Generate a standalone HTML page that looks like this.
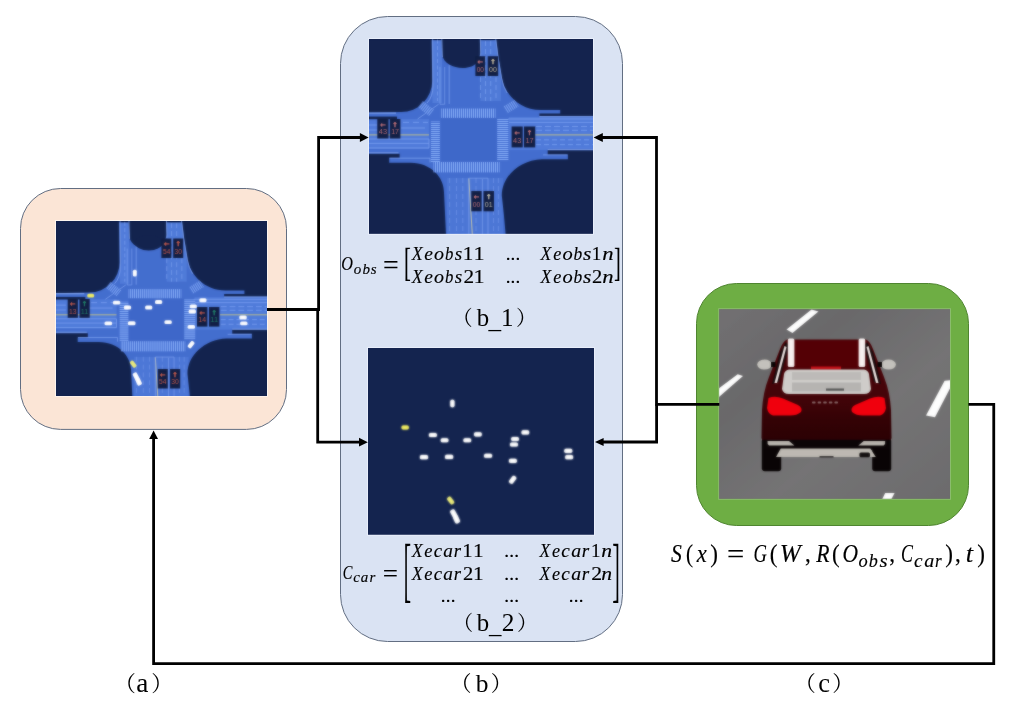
<!DOCTYPE html>
<html><head><meta charset="utf-8"><title>Figure</title>
<style>
html,body{margin:0;padding:0;background:#fff;}
body{width:1009px;height:705px;overflow:hidden;font-family:"Liberation Serif","Noto Serif CJK SC",serif;}
svg{display:block;position:absolute;left:0;top:0;}
</style></head><body>
<svg width="1009" height="705" viewBox="0 0 1009 705">
<defs>
<pattern id="cwv" width="2" height="4" patternUnits="userSpaceOnUse"><rect width="2" height="4" fill="#4a74d4"/><rect width="1" height="4" fill="#82a8f4"/></pattern>
<pattern id="cwh" width="4" height="2" patternUnits="userSpaceOnUse"><rect width="4" height="2" fill="#4a74d4"/><rect width="4" height="1" fill="#82a8f4"/></pattern>
<linearGradient id="roadg" x1="0" y1="0" x2="1" y2="1"><stop offset="0" stop-color="#737173"/><stop offset="0.3" stop-color="#6a696b"/><stop offset="0.6" stop-color="#757475"/><stop offset="1" stop-color="#6c6b6d"/></linearGradient>
<linearGradient id="bodyg" x1="0" y1="0" x2="0" y2="1"><stop offset="0" stop-color="#4c060a"/><stop offset="0.55" stop-color="#45050a"/><stop offset="0.8" stop-color="#340306"/><stop offset="1" stop-color="#2c0205"/></linearGradient>
<filter id="soft" x="-2%" y="-2%" width="104%" height="104%" color-interpolation-filters="sRGB"><feGaussianBlur stdDeviation="0.85"/></filter>
<filter id="soft2" x="-2%" y="-2%" width="104%" height="104%" color-interpolation-filters="sRGB"><feGaussianBlur stdDeviation="0.85"/></filter>
<clipPath id="clipA"><rect x="56" y="221" width="211" height="174.8"/></clipPath>
<clipPath id="clipB1"><rect x="369" y="39" width="224" height="194.8"/></clipPath>
<clipPath id="clipB2"><rect x="368" y="348" width="226" height="186.8"/></clipPath>
<clipPath id="clipC"><rect x="719.2" y="309.2" width="230.8" height="189.6"/></clipPath>
<g id="map"><rect x="-6" y="-6" width="240" height="212" fill="#446ecf"/>
<rect x="-6" y="80" width="66" height="30" fill="#5680de" opacity="0.7"/>
<rect x="140" y="78" width="94" height="33" fill="#5680de" opacity="0.7"/>
<path d="M62.5,-6 H72.2 L73.2,30 V64 H63.5 Z" fill="#5680dc" opacity="0.8"/>
<path d="M110.6,-6 H126.4 L132,40 V62 H111.4 Z" fill="#5680dc" opacity="0.7"/>
<rect x="78" y="139" width="56" height="70" fill="#5680de" opacity="0.5"/>
<path fill="#14244f" d="M-6,-6 H62.5 L63.2,42 A31,31 0 0 1 32.2,73 L-6,73.7 Z"/>
<path fill="#14244f" d="M72.2,-6 L73.2,16 C74.5,24 84,29 93.7,29 C100,29 106,27 109,22 L111.4,14 L110.6,-6 Z"/>
<path fill="#14244f" d="M126.4,-6 L129.4,18 L132.8,38.9 C136,55 150,70.9 172,70.9 H191.2 V74.5 H170.4 V77.1 H234 V-6 Z"/>
<path fill="#14244f" d="M234,111.2 H178.7 V115.4 H198.9 V120.2 H173 C150,121 132.8,138 132.8,156.4 L134.9,175.8 L137.6,206 H234 Z"/>
<path fill="#14244f" d="M-6,114.7 H30.6 V118.8 H20.2 V123.7 H41.7 C62,124 75,138 75,153.6 L77.5,206 H-6 Z"/>
<rect x="-6" y="77.6" width="34" height="2.6" fill="#14244f"/>
<rect x="-6" y="-6" width="240" height="7.1" fill="#14244f"/>
<path d="M48.6,80 L69.5,65.3" stroke="#86a9f4" stroke-width="0.8" fill="none" opacity="0.85"/>
<rect x="-7" y="-4" width="14" height="8" fill="url(#cwv)" opacity="0.8" transform="translate(57,69.5) rotate(38)"/>
<rect x="-6.5" y="-4" width="13" height="8" fill="url(#cwv)" opacity="0.8" transform="translate(142,67.5) rotate(-32)"/>
<path d="M63.6,-6 L64,46 Q64,58 58,64" stroke="#86a9f4" stroke-width="0.9" fill="none" opacity="0.85"/>
<path d="M68.5,-6 V62" stroke="#86a9f4" stroke-width="0.7" fill="none" opacity="0.85" stroke-dasharray="4 2.5"/>
<path d="M72.6,-6 L73.4,18" stroke="#86a9f4" stroke-width="0.9" fill="none" opacity="0.85"/>
<path d="M71,28 V65.3 H75.7 V28" stroke="#86a9f4" stroke-width="0.7" fill="none" opacity="0.85"/>
<path d="M80.2,26 V65" stroke="#86a9f4" stroke-width="0.8" fill="none" opacity="0.85"/>
<path d="M111.2,-6 L111.8,17" stroke="#86a9f4" stroke-width="0.9" fill="none" opacity="0.85"/>
<path d="M126,-6 L129,18 L132.6,39 Q134,48 138,54" stroke="#86a9f4" stroke-width="0.9" fill="none" opacity="0.85"/>
<path d="M116.5,-6 V62" stroke="#86a9f4" stroke-width="0.7" fill="none" opacity="0.85" stroke-dasharray="5 3"/>
<path d="M121.7,-6 V62" stroke="#86a9f4" stroke-width="0.7" fill="none" opacity="0.85" stroke-dasharray="5 3"/>
<path d="M127,38 V60" stroke="#86a9f4" stroke-width="0.7" fill="none" opacity="0.85" stroke-dasharray="5 3"/>
<path d="M111.5,38 V62" stroke="#86a9f4" stroke-width="0.7" fill="none" opacity="0.85" stroke-dasharray="5 3"/>
<path d="M-6,74.2 H27" stroke="#86a9f4" stroke-width="1.2" fill="none" opacity="0.9"/>
<path d="M34,83.4 H59" stroke="#86a9f4" stroke-width="0.8" fill="none" opacity="0.85" stroke-dasharray="6 4"/>
<path d="M-6,86 H8 M32,89 H56" stroke="#86a9f4" stroke-width="0.8" fill="none" opacity="0.85"/>
<path d="M-6,91 H8" stroke="#86a9f4" stroke-width="0.8" fill="none" opacity="0.85"/>
<path d="M-6,95.9 H60" stroke="#d8cd78" stroke-width="0.9" fill="none" opacity="0.95"/>
<path d="M-6,100 H60 V109 H-6 M-6,104.4 H60" stroke="#86a9f4" stroke-width="0.8" fill="none" opacity="0.85"/>
<path d="M-6,113.8 H29.5" stroke="#86a9f4" stroke-width="1.0" fill="none" opacity="0.9"/>
<path d="M20.5,119.2 H61 V123.4" stroke="#86a9f4" stroke-width="0.8" fill="none" opacity="0.85"/>
<path d="M170.4,77.7 H234" stroke="#86a9f4" stroke-width="1.0" fill="none" opacity="0.9"/>
<path d="M139,80 H234 M140,83.4 H234" stroke="#86a9f4" stroke-width="0.8" fill="none" opacity="0.85"/>
<path d="M167,87.5 H234" stroke="#86a9f4" stroke-width="0.8" fill="none" opacity="0.85" stroke-dasharray="6 3"/>
<path d="M167,91.3 H234" stroke="#86a9f4" stroke-width="0.8" fill="none" opacity="0.85" stroke-dasharray="6 3"/>
<path d="M166.2,95.9 H234" stroke="#d8cd78" stroke-width="0.9" fill="none" opacity="0.95"/>
<path d="M167,100.8 H234" stroke="#86a9f4" stroke-width="0.8" fill="none" opacity="0.85" stroke-dasharray="5 3"/>
<path d="M167,105.6 H234" stroke="#86a9f4" stroke-width="0.8" fill="none" opacity="0.85" stroke-dasharray="5 3"/>
<path d="M178.7,110.6 H234" stroke="#86a9f4" stroke-width="1.0" fill="none" opacity="0.9"/>
<path d="M174,115.9 H198.5" stroke="#86a9f4" stroke-width="0.8" fill="none" opacity="0.85"/>
<path d="M80.6,139 V206" stroke="#86a9f4" stroke-width="0.7" fill="none" opacity="0.6" stroke-dasharray="5 3"/>
<path d="M87.5,139 V206" stroke="#86a9f4" stroke-width="0.7" fill="none" opacity="0.6" stroke-dasharray="5 3"/>
<path d="M93.8,139 V206" stroke="#86a9f4" stroke-width="0.7" fill="none" opacity="0.6" stroke-dasharray="5 3"/>
<path d="M107,139 V206" stroke="#86a9f4" stroke-width="0.7" fill="none" opacity="0.6" stroke-dasharray="5 3"/>
<path d="M124.5,139 V206" stroke="#86a9f4" stroke-width="0.7" fill="none" opacity="0.6" stroke-dasharray="5 3"/>
<path d="M129.4,139 V206" stroke="#86a9f4" stroke-width="0.7" fill="none" opacity="0.6" stroke-dasharray="5 3"/>
<path d="M99.8,139.5 L103.6,200" stroke="#cdc9a4" stroke-width="1.0" fill="none" opacity="0.95"/>
<path d="M99.8,206 V139.2 H119 V206" stroke="#86a9f4" stroke-width="0.7" fill="none" opacity="0.85"/>
<path d="M113.4,140 V206" stroke="#86a9f4" stroke-width="0.7" fill="none" opacity="0.85"/></g>
<g id="mapc"><rect x="71.7" y="79.2" width="56.1" height="43.1" fill="#3f68c9"/>
<rect x="72.3" y="69.5" width="54.2" height="9.4" fill="url(#cwv)"/>
<rect x="64.5" y="123" width="66.1" height="10.4" fill="url(#cwv)"/>
<rect x="61.9" y="82.5" width="9" height="40.5" fill="url(#cwh)"/>
<rect x="128.2" y="80" width="11.2" height="41" fill="url(#cwh)"/></g>
<g id="mapca"><rect x="72.48" y="79.2" width="56.620000000000005" height="43.1" fill="#3f68c9"/>
<rect x="72.3" y="69.5" width="54.2" height="9.4" fill="url(#cwv)"/>
<rect x="64.5" y="123" width="66.1" height="10.4" fill="url(#cwv)"/>
<rect x="63.199999999999996" y="82.5" width="9" height="40.5" fill="url(#cwh)"/>
<rect x="129.5" y="80" width="11.2" height="41" fill="url(#cwh)"/></g>
<g id="cars"><rect x="-3.45" y="-1.80" width="6.9" height="3.6" rx="1.5" fill="#f2ee60" transform="translate(34.7,74.6) rotate(0)"/>
<rect x="-3.45" y="-1.95" width="6.9" height="3.9" rx="1.5" fill="#fff" transform="translate(78.8,52.1) rotate(90)"/>
<rect x="-3.70" y="-1.95" width="7.4" height="3.9" rx="1.5" fill="#fff" transform="translate(60.6,81.6) rotate(0)"/>
<rect x="-3.60" y="-1.95" width="7.2" height="3.9" rx="1.5" fill="#fff" transform="translate(71.5,86.5) rotate(0)"/>
<rect x="-3.60" y="-1.95" width="7.2" height="3.9" rx="1.5" fill="#fff" transform="translate(92.7,86.5) rotate(0)"/>
<rect x="-3.60" y="-1.95" width="7.2" height="3.9" rx="1.5" fill="#fff" transform="translate(102.6,81) rotate(0)"/>
<rect x="-3.60" y="-1.95" width="7.2" height="3.9" rx="1.5" fill="#fff" transform="translate(146.9,79.2) rotate(0)"/>
<rect x="-3.60" y="-1.95" width="7.2" height="3.9" rx="1.5" fill="#fff" transform="translate(137.3,85.4) rotate(0)"/>
<rect x="-3.80" y="-1.95" width="7.6" height="3.9" rx="1.5" fill="#fff" transform="translate(52.3,102.4) rotate(0)"/>
<rect x="-3.80" y="-1.95" width="7.6" height="3.9" rx="1.5" fill="#fff" transform="translate(75.7,102.2) rotate(0)"/>
<rect x="-3.70" y="-1.95" width="7.4" height="3.9" rx="1.5" fill="#fff" transform="translate(136.3,90.5) rotate(0)"/>
<rect x="-3.70" y="-1.95" width="7.4" height="3.9" rx="1.5" fill="#fff" transform="translate(112.1,101.1) rotate(0)"/>
<rect x="-3.70" y="-1.95" width="7.4" height="3.9" rx="1.5" fill="#fff" transform="translate(135.3,105.9) rotate(0)"/>
<rect x="-3.75" y="-1.95" width="7.5" height="3.9" rx="1.5" fill="#fff" transform="translate(187,96.5) rotate(0)"/>
<rect x="-3.70" y="-1.95" width="7.4" height="3.9" rx="1.5" fill="#fff" transform="translate(187.8,102.4) rotate(0)"/>
<rect x="-3.90" y="-2.10" width="7.8" height="4.2" rx="1.5" fill="#fff" transform="translate(135.1,123.6) rotate(-52)"/>
<rect x="-3.80" y="-2.00" width="7.6" height="4" rx="1.5" fill="#eaea7a" transform="translate(77.2,143.1) rotate(52)"/>
<rect x="-3.80" y="-2.30" width="7.6" height="4.6" rx="1.5" fill="#fff" transform="translate(80.0,155.3) rotate(62)"/>
<rect x="-3.90" y="-2.40" width="7.8" height="4.8" rx="1.5" fill="#fff" transform="translate(82.6,160.6) rotate(66)"/></g>
<g id="imgA"><g transform="translate(56,221)"><g transform="translate(2,0.3) scale(0.975,0.975)"><use href="#map"/><ellipse cx="93" cy="22" rx="14" ry="8" fill="#14244f"/><use href="#mapca"/></g><rect x="105.4" y="17.5" width="10" height="19.5" fill="#121f45"/><text x="110.4" y="25.01" font-size="6.5" font-weight="700" stroke="#e2654e" stroke-width="0.4" opacity="0.9" fill="#e2654e" text-anchor="middle" font-family='"DejaVu Sans","Liberation Sans",sans-serif'>←</text><text x="110.4" y="32.71" font-size="7.4" fill="#e2654e" opacity="0.85" text-anchor="middle" textLength="7.40" lengthAdjust="spacingAndGlyphs" font-family='"Liberation Sans",sans-serif'>54</text>
<rect x="117.2" y="17.5" width="10" height="19.5" fill="#121f45"/><text x="122.2" y="25.01" font-size="6.5" font-weight="700" stroke="#e2654e" stroke-width="0.4" opacity="0.9" fill="#e2654e" text-anchor="middle" font-family='"DejaVu Sans","Liberation Sans",sans-serif'>↑</text><text x="122.2" y="32.71" font-size="7.4" fill="#e2654e" opacity="0.85" text-anchor="middle" textLength="7.40" lengthAdjust="spacingAndGlyphs" font-family='"Liberation Sans",sans-serif'>30</text>
<rect x="11.7" y="78" width="10.2" height="18.8" fill="#121f45"/><text x="16.799999999999997" y="85.24" font-size="6.5" font-weight="700" stroke="#e2654e" stroke-width="0.4" opacity="0.9" fill="#e2654e" text-anchor="middle" font-family='"DejaVu Sans","Liberation Sans",sans-serif'>←</text><text x="16.799999999999997" y="92.66" font-size="7.4" fill="#e2654e" opacity="0.85" text-anchor="middle" textLength="7.55" lengthAdjust="spacingAndGlyphs" font-family='"Liberation Sans",sans-serif'>13</text>
<rect x="23.5" y="78" width="10.2" height="18.8" fill="#121f45"/><text x="28.6" y="85.24" font-size="6.5" font-weight="700" stroke="#259070" stroke-width="0.4" opacity="0.9" fill="#259070" text-anchor="middle" font-family='"DejaVu Sans","Liberation Sans",sans-serif'>↑</text><text x="28.6" y="92.66" font-size="7.4" fill="#259070" opacity="0.85" text-anchor="middle" textLength="7.55" lengthAdjust="spacingAndGlyphs" font-family='"Liberation Sans",sans-serif'>11</text>
<rect x="141" y="86" width="10.4" height="19.6" fill="#121f45"/><text x="146.2" y="93.55" font-size="6.5" font-weight="700" stroke="#e2654e" stroke-width="0.4" opacity="0.9" fill="#e2654e" text-anchor="middle" font-family='"DejaVu Sans","Liberation Sans",sans-serif'>←</text><text x="146.2" y="101.29" font-size="7.4" fill="#e2654e" opacity="0.85" text-anchor="middle" textLength="7.70" lengthAdjust="spacingAndGlyphs" font-family='"Liberation Sans",sans-serif'>14</text>
<rect x="153" y="86" width="10.4" height="19.6" fill="#121f45"/><text x="158.2" y="93.55" font-size="6.5" font-weight="700" stroke="#259070" stroke-width="0.4" opacity="0.9" fill="#259070" text-anchor="middle" font-family='"DejaVu Sans","Liberation Sans",sans-serif'>↑</text><text x="158.2" y="101.29" font-size="7.4" fill="#259070" opacity="0.85" text-anchor="middle" textLength="7.70" lengthAdjust="spacingAndGlyphs" font-family='"Liberation Sans",sans-serif'>11</text>
<rect x="101.8" y="148" width="10" height="19.5" fill="#121f45"/><text x="106.8" y="155.51" font-size="6.5" font-weight="700" stroke="#e2654e" stroke-width="0.4" opacity="0.9" fill="#e2654e" text-anchor="middle" font-family='"DejaVu Sans","Liberation Sans",sans-serif'>←</text><text x="106.8" y="163.21" font-size="7.4" fill="#e2654e" opacity="0.85" text-anchor="middle" textLength="7.40" lengthAdjust="spacingAndGlyphs" font-family='"Liberation Sans",sans-serif'>54</text>
<rect x="114" y="148" width="10.2" height="19.5" fill="#121f45"/><text x="119.1" y="155.51" font-size="6.5" font-weight="700" stroke="#e2654e" stroke-width="0.4" opacity="0.9" fill="#e2654e" text-anchor="middle" font-family='"DejaVu Sans","Liberation Sans",sans-serif'>↑</text><text x="119.1" y="163.21" font-size="7.4" fill="#e2654e" opacity="0.85" text-anchor="middle" textLength="7.55" lengthAdjust="spacingAndGlyphs" font-family='"Liberation Sans",sans-serif'>30</text><use href="#cars"/></g></g>
<g id="imgB1"><g transform="translate(369,39)"><use href="#map"/><use href="#mapc"/><rect x="106.4" y="17.2" width="9.8" height="19.8" fill="#121f45"/><text x="111.30000000000001" y="24.82" font-size="6.5" font-weight="700" stroke="#dc7f80" stroke-width="0.4" opacity="0.9" fill="#dc7f80" text-anchor="middle" font-family='"DejaVu Sans","Liberation Sans",sans-serif'>←</text><text x="111.30000000000001" y="32.64" font-size="7.4" fill="#dc7f80" opacity="0.85" text-anchor="middle" textLength="7.25" lengthAdjust="spacingAndGlyphs" font-family='"Liberation Sans",sans-serif'>00</text>
<rect x="118.7" y="17.2" width="10.5" height="19.8" fill="#121f45"/><text x="123.95" y="24.82" font-size="6.5" font-weight="700" stroke="#e4d4ac" stroke-width="0.4" opacity="0.9" fill="#e4d4ac" text-anchor="middle" font-family='"DejaVu Sans","Liberation Sans",sans-serif'>↑</text><text x="123.95" y="32.64" font-size="7.4" fill="#e4d4ac" opacity="0.85" text-anchor="middle" textLength="7.77" lengthAdjust="spacingAndGlyphs" font-family='"Liberation Sans",sans-serif'>00</text>
<rect x="8.3" y="80" width="11.2" height="19.5" fill="#121f45"/><text x="13.9" y="87.51" font-size="6.5" font-weight="700" stroke="#dc7f80" stroke-width="0.4" opacity="0.9" fill="#dc7f80" text-anchor="middle" font-family='"DejaVu Sans","Liberation Sans",sans-serif'>←</text><text x="13.9" y="95.21" font-size="7.4" fill="#dc7f80" opacity="0.85" text-anchor="middle" textLength="8.29" lengthAdjust="spacingAndGlyphs" font-family='"Liberation Sans",sans-serif'>43</text>
<rect x="20.8" y="80" width="10.6" height="19.5" fill="#121f45"/><text x="26.1" y="87.51" font-size="6.5" font-weight="700" stroke="#dc7f80" stroke-width="0.4" opacity="0.9" fill="#dc7f80" text-anchor="middle" font-family='"DejaVu Sans","Liberation Sans",sans-serif'>↑</text><text x="26.1" y="95.21" font-size="7.4" fill="#dc7f80" opacity="0.85" text-anchor="middle" textLength="7.84" lengthAdjust="spacingAndGlyphs" font-family='"Liberation Sans",sans-serif'>17</text>
<rect x="142.6" y="87.5" width="11.1" height="20.9" fill="#121f45"/><text x="148.15" y="95.55" font-size="6.5" font-weight="700" stroke="#dc7f80" stroke-width="0.4" opacity="0.9" fill="#dc7f80" text-anchor="middle" font-family='"DejaVu Sans","Liberation Sans",sans-serif'>←</text><text x="148.15" y="103.80" font-size="7.4" fill="#dc7f80" opacity="0.85" text-anchor="middle" textLength="8.21" lengthAdjust="spacingAndGlyphs" font-family='"Liberation Sans",sans-serif'>43</text>
<rect x="155" y="87.5" width="11.2" height="20.9" fill="#121f45"/><text x="160.6" y="95.55" font-size="6.5" font-weight="700" stroke="#dc7f80" stroke-width="0.4" opacity="0.9" fill="#dc7f80" text-anchor="middle" font-family='"DejaVu Sans","Liberation Sans",sans-serif'>↑</text><text x="160.6" y="103.80" font-size="7.4" fill="#dc7f80" opacity="0.85" text-anchor="middle" textLength="8.29" lengthAdjust="spacingAndGlyphs" font-family='"Liberation Sans",sans-serif'>17</text>
<rect x="102.3" y="152" width="10.3" height="20.3" fill="#121f45"/><text x="107.45" y="159.82" font-size="6.5" font-weight="700" stroke="#dc7f80" stroke-width="0.4" opacity="0.9" fill="#dc7f80" text-anchor="middle" font-family='"DejaVu Sans","Liberation Sans",sans-serif'>←</text><text x="107.45" y="167.83" font-size="7.4" fill="#dc7f80" opacity="0.85" text-anchor="middle" textLength="7.62" lengthAdjust="spacingAndGlyphs" font-family='"Liberation Sans",sans-serif'>00</text>
<rect x="114.5" y="152" width="10.5" height="20.3" fill="#121f45"/><text x="119.75" y="159.82" font-size="6.5" font-weight="700" stroke="#d8d4bc" stroke-width="0.4" opacity="0.9" fill="#d8d4bc" text-anchor="middle" font-family='"DejaVu Sans","Liberation Sans",sans-serif'>↑</text><text x="119.75" y="167.83" font-size="7.4" fill="#d8d4bc" opacity="0.85" text-anchor="middle" textLength="7.77" lengthAdjust="spacingAndGlyphs" font-family='"Liberation Sans",sans-serif'>01</text></g></g>
<g id="imgB2"><g transform="translate(368,348) scale(1.071,1.066)"><use href="#cars"/></g></g>
<g id="imgC"><rect x="715" y="305" width="240" height="200" fill="url(#roadg)"/>
<g fill="#fdfdfd">
<polygon points="786.5,329.5 792.5,333 818.5,311.5 811.5,309.5"/>
<polygon points="718,389 737.7,374.2 743,376 718,397.8"/>
<polygon points="926,415.4 935,417.3 951,386.5 951,380 944.6,380.8"/>
<polygon points="882,499.5 891.2,499.5 894.6,493 885.2,493"/>
</g>
<rect x="761.8" y="438" width="19.4" height="33.2" rx="3" fill="#0a0506"/>
<rect x="872.2" y="438" width="19" height="33.2" rx="3" fill="#0a0506"/>
<path fill="url(#bodyg)" d="M787,339.5 H866 Q870,341 873,349 L884,377 Q890,392 891,410 L891.5,438 Q891,441 888,441 H765 Q762,441 761.5,438 L762,410 Q763,392 769,377 L780,349 Q783,341 787,339.5 Z"/>
<rect x="763" y="439.8" width="127" height="10" fill="#0c0607"/>
<path d="M767.5,441 H789 L794.4,445.6 H769 Q767,444 767.5,441 Z" fill="#b8b4ae"/>
<path d="M885.2,441 H863.7 L858.3,445.6 H883.7 Q885.7,444 885.2,441 Z" fill="#b8b4ae"/>
<path fill="#bdb9b2" d="M780.7,448.6 H870.3 L875.8,457 H776 Z"/><rect x="859.4" y="452.6" width="10.6" height="4.6" rx="1.5" fill="#141011"/><rect x="819.5" y="456" width="14" height="1.6" fill="#3a3636"/>
<path fill="#1a0a0c" d="M786,342 L780,352 L772,384 L779,382 L789,346 Z"/>
<path fill="#1a0a0c" d="M867,342 L873,352 L881,384 L874,382 L864,346 Z"/>
<path fill="#efe6e4" d="M784.5,346 L786.5,347 L777,383 L774.5,383 Z"/>
<path fill="#efe6e4" d="M868.5,346 L866.5,347 L876,383 L878.5,383 Z"/>
<rect x="794" y="340.5" width="65" height="28" fill="#540006"/>
<rect x="787.8" y="338.5" width="6.6" height="28.5" rx="1.5" fill="#f6eeee"/>
<rect x="858.6" y="338.5" width="6.6" height="28.5" rx="1.5" fill="#f6eeee"/>
<rect x="811" y="366.5" width="30" height="3" fill="#c01018"/>
<ellipse cx="764.5" cy="364.6" rx="7.3" ry="5" fill="#c4c2bc"/>
<ellipse cx="888.6" cy="364.6" rx="7.3" ry="5" fill="#c4c2bc"/>
<rect x="771" y="362" width="4.5" height="5" fill="#0a0506"/>
<rect x="877.5" y="362" width="4.5" height="5" fill="#0a0506"/>
<path fill="#cfcdc9" d="M789,369.5 H864 Q868,370 869,374 L871,389 Q870,394 864,394 H789 Q783,394 782,389 L784,374 Q785,370 789,369.5 Z"/>
<rect x="792" y="372" width="69" height="8" fill="#bdbbb8"/>
<rect x="792" y="382.5" width="69" height="9" fill="#b6b4b1"/>
<rect x="826" y="388.5" width="18" height="2.2" fill="#555"/>
<path fill="#f0000e" d="M768.5,398 Q775,395.5 783,398.5 L798,405 Q803,408 801,412 Q797,415.5 790,415.5 H773 Q768,414 767,408 Z"/>
<path fill="#f0000e" d="M884.5,398 Q878,395.5 870,398.5 L855,405 Q850,408 852,412 Q856,415.5 863,415.5 H880 Q885,414 886,408 Z"/>
<rect x="812" y="401.6" width="3.6" height="2" rx="0.8" fill="#9a7f80" opacity="0.8"/><rect x="817.6" y="401.6" width="3.6" height="2" rx="0.8" fill="#9a7f80" opacity="0.8"/><rect x="823.2" y="401.6" width="3.6" height="2" rx="0.8" fill="#9a7f80" opacity="0.8"/><rect x="828.8" y="401.6" width="3.6" height="2" rx="0.8" fill="#9a7f80" opacity="0.8"/><rect x="834.4" y="401.6" width="3.6" height="2" rx="0.8" fill="#9a7f80" opacity="0.8"/></g>
</defs>
<rect x="20.5" y="188.5" width="266" height="240.9" rx="40" ry="40" fill="#fbe5d6" stroke="#626e82" stroke-width="1"/>
<rect x="340.5" y="16.5" width="282" height="625" rx="47" ry="47" fill="#dae3f3" stroke="#626e82" stroke-width="1"/>
<rect x="696.5" y="283.5" width="272" height="242" rx="40" ry="40" fill="#6eae44" stroke="#4f8530" stroke-width="1"/>
<rect x="55.5" y="220.5" width="212" height="175.8" fill="none" stroke="#ffffff" stroke-width="1" opacity="0.6"/>
<rect x="368.5" y="38.5" width="225" height="195.8" fill="none" stroke="#f4f8ff" stroke-width="1" opacity="0.55"/>
<rect x="367.5" y="347.5" width="227" height="187.8" fill="none" stroke="#f4f8ff" stroke-width="1" opacity="0.55"/>
<rect x="718.7" y="308.7" width="231.8" height="190.6" fill="none" stroke="#9fc58a" stroke-width="1" opacity="0.6"/>
<g clip-path="url(#clipA)"><use href="#imgA" filter="url(#soft)"/><use href="#imgA" opacity="0.45"/></g>
<g clip-path="url(#clipB1)"><use href="#imgB1" filter="url(#soft)"/><use href="#imgB1" opacity="0.45"/></g>
<g clip-path="url(#clipB2)"><rect x="365" y="344" width="235" height="195" fill="#14244f"/><use href="#imgB2" filter="url(#soft)"/><use href="#imgB2" opacity="0.45"/></g>
<g clip-path="url(#clipC)"><use href="#imgC" filter="url(#soft2)"/><use href="#imgC" opacity="0.45"/></g>
<path stroke="#000" stroke-width="2.8" fill="none" stroke-linejoin="miter" d="M267,309.5 H318.6 V137.5 H361"/>
<path stroke="#000" stroke-width="2.8" fill="none" stroke-linejoin="miter" d="M267,309.5 H317.7 V442.2 H360"/>
<polygon points="368.6,137.5 359.9,133.1 359.9,141.9" fill="#000"/>
<polygon points="367.8,442.2 359,437.8 359,446.6" fill="#000"/>
<path stroke="#000" stroke-width="2.8" fill="none" stroke-linejoin="miter" d="M719.3,404.4 H656.5 V137.5 H602"/>
<path stroke="#000" stroke-width="2.8" fill="none" stroke-linejoin="miter" d="M656.6,404.4 V442 H603"/>
<polygon points="593.6,137.5 602.8,133.1 602.8,141.9" fill="#000"/>
<polygon points="595,442 603.6,437.9 603.6,446.1" fill="#000"/>
<path stroke="#000" stroke-width="2.8" fill="none" stroke-linejoin="miter" d="M968.5,404.4 H993.75 V663.6 H153.6 V438"/>
<polygon points="153.6,430.4 149.2,438.9 158,438.9" fill="#000"/>
<g style="opacity:0.999"><text font-family='"Liberation Serif", serif' fill="#000" stroke="#000" stroke-width="0.15" xml:space="preserve"><tspan y="270" font-size="19" font-style="italic"><tspan x="341.24" textLength="11.67" lengthAdjust="spacingAndGlyphs">O</tspan></tspan><tspan x="353.65 362.40 370.85" y="273.7" font-size="15" font-style="italic">obs</tspan></text>
<text font-family='"Liberation Serif", serif' font-size="27.20" font-weight="400" transform="translate(383.01,273.51) scale(1.025,1)" font-style="normal" fill="#000" stroke="#000" stroke-width="0.1">=</text>
<text font-family='"Liberation Serif", serif' fill="#000" stroke="#000" stroke-width="0.15" xml:space="preserve"><tspan y="259.6" font-size="19" font-style="italic"><tspan x="411.69" textLength="10.94" lengthAdjust="spacingAndGlyphs">X</tspan><tspan x="424.27" textLength="8.65" lengthAdjust="spacingAndGlyphs">e</tspan><tspan x="434.05" textLength="10.00" lengthAdjust="spacingAndGlyphs">o</tspan><tspan x="444.98" textLength="8.37" lengthAdjust="spacingAndGlyphs">b</tspan><tspan x="454.86" textLength="7.45" lengthAdjust="spacingAndGlyphs">s</tspan></tspan><tspan y="259.6" font-size="19" font-style="normal"><tspan x="462.85" textLength="10.57" lengthAdjust="spacingAndGlyphs">1</tspan><tspan x="473.54" textLength="11.14" lengthAdjust="spacingAndGlyphs">1</tspan></tspan></text>
<text font-family='"Liberation Serif", serif' fill="#000" stroke="#000" stroke-width="0.15" xml:space="preserve"><tspan x="505.67 510.57 515.47" y="259.6" font-size="19" font-style="normal">...</tspan></text>
<text font-family='"Liberation Serif", serif' fill="#000" stroke="#000" stroke-width="0.15" xml:space="preserve"><tspan y="259.6" font-size="19" font-style="italic"><tspan x="540.58" textLength="10.85" lengthAdjust="spacingAndGlyphs">X</tspan><tspan x="553.20" textLength="8.08" lengthAdjust="spacingAndGlyphs">e</tspan><tspan x="562.44" textLength="10.23" lengthAdjust="spacingAndGlyphs">o</tspan><tspan x="573.55" textLength="8.72" lengthAdjust="spacingAndGlyphs">b</tspan><tspan x="582.94" textLength="8.34" lengthAdjust="spacingAndGlyphs">s</tspan></tspan><tspan y="259.6" font-size="19" font-style="normal"><tspan x="591.83" textLength="9.57" lengthAdjust="spacingAndGlyphs">1</tspan></tspan><tspan y="259.6" font-size="19" font-style="italic"><tspan x="602.25" textLength="11.31" lengthAdjust="spacingAndGlyphs">n</tspan></tspan></text>
<text font-family='"Liberation Serif", serif' fill="#000" stroke="#000" stroke-width="0.15" xml:space="preserve"><tspan y="282.6" font-size="19" font-style="italic"><tspan x="411.69" textLength="10.94" lengthAdjust="spacingAndGlyphs">X</tspan><tspan x="424.27" textLength="8.65" lengthAdjust="spacingAndGlyphs">e</tspan><tspan x="434.05" textLength="10.00" lengthAdjust="spacingAndGlyphs">o</tspan><tspan x="444.98" textLength="8.37" lengthAdjust="spacingAndGlyphs">b</tspan><tspan x="454.86" textLength="7.45" lengthAdjust="spacingAndGlyphs">s</tspan></tspan><tspan y="282.6" font-size="19" font-style="normal"><tspan x="463.60" textLength="10.62" lengthAdjust="spacingAndGlyphs">2</tspan><tspan x="473.54" textLength="11.14" lengthAdjust="spacingAndGlyphs">1</tspan></tspan></text>
<text font-family='"Liberation Serif", serif' fill="#000" stroke="#000" stroke-width="0.15" xml:space="preserve"><tspan x="505.67 510.57 515.47" y="282.6" font-size="19" font-style="normal">...</tspan></text>
<text font-family='"Liberation Serif", serif' fill="#000" stroke="#000" stroke-width="0.15" xml:space="preserve"><tspan y="282.6" font-size="19" font-style="italic"><tspan x="540.58" textLength="10.85" lengthAdjust="spacingAndGlyphs">X</tspan><tspan x="553.20" textLength="8.08" lengthAdjust="spacingAndGlyphs">e</tspan><tspan x="562.44" textLength="10.23" lengthAdjust="spacingAndGlyphs">o</tspan><tspan x="573.55" textLength="8.72" lengthAdjust="spacingAndGlyphs">b</tspan><tspan x="582.94" textLength="8.34" lengthAdjust="spacingAndGlyphs">s</tspan></tspan><tspan y="282.6" font-size="19" font-style="normal"><tspan x="592.03" textLength="10.25" lengthAdjust="spacingAndGlyphs">2</tspan></tspan><tspan y="282.6" font-size="19" font-style="italic"><tspan x="602.25" textLength="11.31" lengthAdjust="spacingAndGlyphs">n</tspan></tspan></text>
<text font-family='"Liberation Serif", serif' fill="#000" stroke="#000" stroke-width="0.15" xml:space="preserve"><tspan y="579.1" font-size="19" font-style="italic"><tspan x="342.68" textLength="9.68" lengthAdjust="spacingAndGlyphs">C</tspan></tspan><tspan x="353.15 360.75 369.60" y="582.4" font-size="15" font-style="italic">car</tspan></text>
<text font-family='"Liberation Serif", serif' font-size="24.00" font-weight="400" transform="translate(382.65,581.24) scale(1.126,1)" font-style="normal" fill="#000" stroke="#000" stroke-width="0.1">=</text>
<text font-family='"Liberation Serif", serif' fill="#000" stroke="#000" stroke-width="0.15" xml:space="preserve"><tspan y="556.5" font-size="19" font-style="italic"><tspan x="411.69" textLength="10.94" lengthAdjust="spacingAndGlyphs">X</tspan><tspan x="424.30" textLength="8.20" lengthAdjust="spacingAndGlyphs">e</tspan><tspan x="433.69" textLength="8.32" lengthAdjust="spacingAndGlyphs">c</tspan><tspan x="443.27" textLength="9.65" lengthAdjust="spacingAndGlyphs">a</tspan><tspan x="453.81" textLength="7.23" lengthAdjust="spacingAndGlyphs">r</tspan></tspan><tspan y="556.5" font-size="19" font-style="normal"><tspan x="462.27" textLength="10.43" lengthAdjust="spacingAndGlyphs">1</tspan><tspan x="473.12" textLength="10.71" lengthAdjust="spacingAndGlyphs">1</tspan></tspan></text>
<text font-family='"Liberation Serif", serif' fill="#000" stroke="#000" stroke-width="0.15" xml:space="preserve"><tspan x="504.17 509.17 514.17" y="556.5" font-size="19" font-style="normal">...</tspan></text>
<text font-family='"Liberation Serif", serif' fill="#000" stroke="#000" stroke-width="0.15" xml:space="preserve"><tspan y="556.5" font-size="19" font-style="italic"><tspan x="539.57" textLength="10.67" lengthAdjust="spacingAndGlyphs">X</tspan><tspan x="552.10" textLength="8.08" lengthAdjust="spacingAndGlyphs">e</tspan><tspan x="561.27" textLength="8.55" lengthAdjust="spacingAndGlyphs">c</tspan><tspan x="571.16" textLength="9.88" lengthAdjust="spacingAndGlyphs">a</tspan><tspan x="581.68" textLength="7.45" lengthAdjust="spacingAndGlyphs">r</tspan></tspan><tspan y="556.5" font-size="19" font-style="normal"><tspan x="591.13" textLength="9.57" lengthAdjust="spacingAndGlyphs">1</tspan></tspan><tspan y="556.5" font-size="19" font-style="italic"><tspan x="601.28" textLength="10.83" lengthAdjust="spacingAndGlyphs">n</tspan></tspan></text>
<text font-family='"Liberation Serif", serif' fill="#000" stroke="#000" stroke-width="0.15" xml:space="preserve"><tspan y="579.9" font-size="19" font-style="italic"><tspan x="411.69" textLength="10.94" lengthAdjust="spacingAndGlyphs">X</tspan><tspan x="424.30" textLength="8.20" lengthAdjust="spacingAndGlyphs">e</tspan><tspan x="433.69" textLength="8.32" lengthAdjust="spacingAndGlyphs">c</tspan><tspan x="443.27" textLength="9.65" lengthAdjust="spacingAndGlyphs">a</tspan><tspan x="453.81" textLength="7.23" lengthAdjust="spacingAndGlyphs">r</tspan></tspan><tspan y="579.9" font-size="19" font-style="normal"><tspan x="463.13" textLength="10.25" lengthAdjust="spacingAndGlyphs">2</tspan><tspan x="473.12" textLength="10.71" lengthAdjust="spacingAndGlyphs">1</tspan></tspan></text>
<text font-family='"Liberation Serif", serif' fill="#000" stroke="#000" stroke-width="0.15" xml:space="preserve"><tspan x="504.17 509.17 514.17" y="579.9" font-size="19" font-style="normal">...</tspan></text>
<text font-family='"Liberation Serif", serif' fill="#000" stroke="#000" stroke-width="0.15" xml:space="preserve"><tspan y="579.9" font-size="19" font-style="italic"><tspan x="539.57" textLength="10.67" lengthAdjust="spacingAndGlyphs">X</tspan><tspan x="552.10" textLength="8.08" lengthAdjust="spacingAndGlyphs">e</tspan><tspan x="561.27" textLength="8.55" lengthAdjust="spacingAndGlyphs">c</tspan><tspan x="571.16" textLength="9.88" lengthAdjust="spacingAndGlyphs">a</tspan><tspan x="581.68" textLength="7.45" lengthAdjust="spacingAndGlyphs">r</tspan></tspan><tspan y="579.9" font-size="19" font-style="normal"><tspan x="591.18" textLength="10.87" lengthAdjust="spacingAndGlyphs">2</tspan></tspan><tspan y="579.9" font-size="19" font-style="italic"><tspan x="601.28" textLength="10.83" lengthAdjust="spacingAndGlyphs">n</tspan></tspan></text>
<text font-family='"Liberation Serif", serif' fill="#000" stroke="#000" stroke-width="0.15" xml:space="preserve"><tspan x="440.77 445.77 450.77" y="602.2" font-size="19" font-style="normal">...</tspan></text>
<text font-family='"Liberation Serif", serif' fill="#000" stroke="#000" stroke-width="0.15" xml:space="preserve"><tspan x="504.17 509.17 514.17" y="602.2" font-size="19" font-style="normal">...</tspan></text>
<text font-family='"Liberation Serif", serif' fill="#000" stroke="#000" stroke-width="0.15" xml:space="preserve"><tspan x="568.87 573.87 578.87" y="602.2" font-size="19" font-style="normal">...</tspan></text>
<text font-family='"Noto Serif CJK SC","Liberation Serif",serif' font-size="34.79" font-weight="500" transform="translate(403.12,275.19) scale(0.647,1)" font-style="normal" fill="#000" stroke="#000" stroke-width="0">[</text>
<text font-family='"Noto Serif CJK SC","Liberation Serif",serif' font-size="34.79" font-weight="500" transform="translate(613.92,275.19) scale(0.632,1)" font-style="normal" fill="#000" stroke="#000" stroke-width="0">]</text>
<text font-family='"Noto Serif CJK SC","Liberation Serif",serif' font-size="62.77" font-weight="300" transform="translate(402.21,591.73) scale(0.434,1)" font-style="normal" fill="#000" stroke="#000" stroke-width="0">[</text>
<text font-family='"Noto Serif CJK SC","Liberation Serif",serif' font-size="62.77" font-weight="300" transform="translate(612.11,591.73) scale(0.436,1)" font-style="normal" fill="#000" stroke="#000" stroke-width="0">]</text>
<text font-family='"Liberation Serif", serif' fill="#000" stroke="#000" stroke-width="0.15" xml:space="preserve"><tspan y="562" font-size="25" font-style="italic"><tspan x="671.03" textLength="10.85" lengthAdjust="spacingAndGlyphs">S</tspan></tspan><tspan y="562" font-size="25" font-style="normal"><tspan x="686.10" textLength="7.05" lengthAdjust="spacingAndGlyphs">(</tspan></tspan><tspan y="562" font-size="25" font-style="italic"><tspan x="696.78" textLength="10.06" lengthAdjust="spacingAndGlyphs">x</tspan></tspan><tspan y="562" font-size="25" font-style="normal"><tspan x="710.16" textLength="7.69" lengthAdjust="spacingAndGlyphs">)</tspan></tspan><tspan x="720.00" y="562" font-size="25" font-style="normal"> </tspan><tspan y="562.6" font-size="27.500000000000004" font-style="normal"><tspan x="727.02" textLength="17.28" lengthAdjust="spacingAndGlyphs">=</tspan></tspan><tspan x="746.00" y="562" font-size="25" font-style="normal"> </tspan><tspan y="562" font-size="25" font-style="italic"><tspan x="753.53" textLength="13.43" lengthAdjust="spacingAndGlyphs">G</tspan></tspan><tspan y="562" font-size="25" font-style="normal"><tspan x="769.73" textLength="7.69" lengthAdjust="spacingAndGlyphs">(</tspan></tspan><tspan y="562" font-size="25" font-style="italic"><tspan x="779.88" textLength="21.03" lengthAdjust="spacingAndGlyphs">W</tspan></tspan><tspan y="562" font-size="25" font-style="normal"><tspan x="805.12" textLength="5.83" lengthAdjust="spacingAndGlyphs">,</tspan></tspan><tspan y="562" font-size="25" font-style="italic"><tspan x="816.15" textLength="13.25" lengthAdjust="spacingAndGlyphs">R</tspan></tspan><tspan y="562" font-size="25" font-style="normal"><tspan x="832.03" textLength="7.69" lengthAdjust="spacingAndGlyphs">(</tspan></tspan><tspan y="562" font-size="25" font-style="italic"><tspan x="842.47" textLength="15.55" lengthAdjust="spacingAndGlyphs">O</tspan></tspan><tspan y="566.6" font-size="19" font-style="italic"><tspan x="858.50" textLength="9.20" lengthAdjust="spacingAndGlyphs">o</tspan><tspan x="868.72" textLength="9.07" lengthAdjust="spacingAndGlyphs">b</tspan><tspan x="879.44" textLength="8.12" lengthAdjust="spacingAndGlyphs">s</tspan></tspan><tspan y="562" font-size="25" font-style="normal"><tspan x="889.32" textLength="5.83" lengthAdjust="spacingAndGlyphs">,</tspan></tspan><tspan y="562" font-size="25" font-style="italic"><tspan x="900.98" textLength="11.94" lengthAdjust="spacingAndGlyphs">C</tspan></tspan><tspan y="566.6" font-size="19" font-style="italic"><tspan x="914.07" textLength="8.55" lengthAdjust="spacingAndGlyphs">c</tspan><tspan x="924.15" textLength="10.00" lengthAdjust="spacingAndGlyphs">a</tspan><tspan x="935.06" textLength="6.67" lengthAdjust="spacingAndGlyphs">r</tspan></tspan><tspan y="562" font-size="25" font-style="normal"><tspan x="945.16" textLength="7.69" lengthAdjust="spacingAndGlyphs">)</tspan></tspan><tspan y="562" font-size="25" font-style="normal"><tspan x="955.02" textLength="5.83" lengthAdjust="spacingAndGlyphs">,</tspan></tspan><tspan y="562" font-size="25" font-style="italic"><tspan x="965.79" textLength="7.38" lengthAdjust="spacingAndGlyphs">t</tspan></tspan><tspan y="562" font-size="25" font-style="normal"><tspan x="977.16" textLength="7.69" lengthAdjust="spacingAndGlyphs">)</tspan></tspan></text>
<text font-family='"Liberation Serif","Noto Serif CJK SC", serif' fill="#000"><tspan x="451.99" y="324.94" font-size="20.65">（</tspan><tspan x="476.83" y="325.65" font-size="24.86">b</tspan><tspan x="488.45" y="327.92" font-size="25.19">_</tspan><tspan x="501.02" y="325.90" font-size="25.00">1</tspan><tspan x="516.11" y="324.94" font-size="20.65">）</tspan></text>
<text font-family='"Liberation Serif","Noto Serif CJK SC", serif' fill="#000"><tspan x="452.44" y="629.94" font-size="20.65">（</tspan><tspan x="476.83" y="630.65" font-size="24.86">b</tspan><tspan x="489.05" y="632.98" font-size="24.81">_</tspan><tspan x="501.66" y="630.90" font-size="25.38">2</tspan><tspan x="517.01" y="629.94" font-size="20.65">）</tspan></text>
<text font-family='"Liberation Serif","Noto Serif CJK SC", serif' fill="#000"><tspan x="114.28" y="691.05" font-size="21.61">（</tspan><tspan x="136.29" y="691.83" font-size="27.29">a</tspan><tspan x="151.21" y="691.05" font-size="21.61">）</tspan></text>
<text font-family='"Liberation Serif","Noto Serif CJK SC", serif' fill="#000"><tspan x="450.33" y="690.98" font-size="21.29">（</tspan><tspan x="475.80" y="691.85" font-size="25.43">b</tspan><tspan x="490.78" y="690.98" font-size="21.29">）</tspan></text>
<text font-family='"Liberation Serif","Noto Serif CJK SC", serif' fill="#000"><tspan x="794.38" y="690.98" font-size="21.29">（</tspan><tspan x="818.15" y="691.84" font-size="26.46">c</tspan><tspan x="832.13" y="690.98" font-size="21.29">）</tspan></text></g>
</svg>
</body></html>
